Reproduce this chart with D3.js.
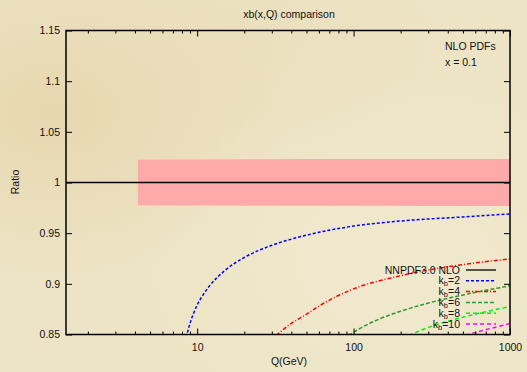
<!DOCTYPE html>
<html>
<head>
<meta charset="utf-8">
<script src="https://cdn.jsdelivr.net/npm/d3@7"></script>
<style>
  html, body { margin: 0; padding: 0; background: #ece2c2; }
  svg { display: block; font-family: "Liberation Sans", Arial, sans-serif; }
</style>
</head>
<body>
<div id="chart"></div>
<script>
'use strict';

// NNPDF3.0 NLO uncertainty band (ratio to central)
const bandQ = [4.18, 6, 10, 20, 50, 100, 300, 1000];
const bandUp = [1.0225, 1.0228, 1.0228, 1.023, 1.0232, 1.0232, 1.0233, 1.0233];
const bandLo = [0.9775, 0.9773, 0.9772, 0.9771, 0.977, 0.977, 0.9768, 0.9768];

// ratio curves for different kb
const kb2Q = [8.5, 9, 10, 11, 12, 15, 20, 30, 50, 100, 200, 500, 1000];
const kb2R = [0.847, 0.861, 0.879, 0.890, 0.898, 0.913, 0.926, 0.938, 0.948, 0.957, 0.962, 0.966, 0.969];
const kb4Q = [32, 40, 50, 60, 100, 200, 500, 1000];
const kb4R = [0.849, 0.861, 0.870, 0.878, 0.895, 0.908, 0.919, 0.9245];
const kb6Q = [93, 110, 150, 200, 300, 500, 1000];
const kb6R = [0.849, 0.856, 0.866, 0.873, 0.881, 0.889, 0.898];
const kb8Q = [225, 300, 400, 600, 1000];
const kb8R = [0.849, 0.857, 0.863, 0.870, 0.8776];
const kb10Q = [520, 600, 800, 1000];
const kb10R = [0.849, 0.852, 0.857, 0.861];

const yTicks = [0.85, 0.9, 0.95, 1, 1.05, 1.1, 1.15];
const yTickLabels = ["0.85", "0.9", "0.95", "1", "1.05", "1.1", "1.15"];
const xTicks = [10, 100, 1000];

const series = [
    {name: "NNPDF3.0 NLO", color: "#000000", dash: null, q: [1.45, 1000], r: [1, 1]},
    {name: "2", color: "#0000ff", dash: "3,2", q: kb2Q, r: kb2R},
    {name: "4", color: "#ff0000", dash: "4,2,1,2", q: kb4Q, r: kb4R},
    {name: "6", color: "#2f9a2f", dash: "4,2", q: kb6Q, r: kb6R},
    {name: "8", color: "#00f000", dash: "4,3", q: kb8Q, r: kb8R},
    {name: "10", color: "#ff00ff", dash: "4,3", q: kb10Q, r: kb10R}
];

const W = 527, H = 372;
const box = {left: 66, right: 510, top: 30.5, bottom: 334.5};

const svg = d3.select('#chart').append('svg')
    .attr('width', W)
    .attr('height', H);

// parchment background
const defs = svg.append('defs');
const spots = [
    {id: 'g1', cx: 0.1, cy: 0.3, r: 0.45, c: '#e2cc9c', o: 0.55},
    {id: 'g2', cx: 0.75, cy: 0.7, r: 0.5, c: '#f3ecd3', o: 0.7},
    {id: 'g3', cx: 0.45, cy: 0.1, r: 0.4, c: '#e9dbb5', o: 0.5}
];
spots.forEach(s => {
    const g = defs.append('radialGradient').attr('id', s.id)
        .attr('cx', s.cx).attr('cy', s.cy).attr('r', s.r);
    g.append('stop').attr('offset', '0%').attr('stop-color', s.c).attr('stop-opacity', s.o);
    g.append('stop').attr('offset', '100%').attr('stop-color', s.c).attr('stop-opacity', 0);
});
defs.append('clipPath').attr('id', 'plotclip')
    .append('rect')
    .attr('x', box.left).attr('y', box.top)
    .attr('width', box.right - box.left).attr('height', box.bottom - box.top);

svg.append('rect').attr('width', W).attr('height', H).attr('fill', '#ede4c5');
spots.forEach(s => {
    svg.append('rect').attr('width', W).attr('height', H).attr('fill', `url(#${s.id})`);
});

const x = d3.scaleLog().domain([1.45, 1000]).range([box.left, box.right]);
const y = d3.scaleLinear().domain([0.85, 1.15]).range([box.bottom, box.top]);

const plot = svg.append('g').attr('clip-path', 'url(#plotclip)');

// band
const bandData = bandQ.map((q, i) => ({q, up: bandUp[i], lo: bandLo[i]}));
plot.append('path')
    .datum(bandData)
    .attr('fill', '#ffaaaa')
    .attr('d', d3.area().x(d => x(d.q)).y0(d => y(d.lo)).y1(d => y(d.up)));

// curves
const line = d3.line().x(d => x(d[0])).y(d => y(d[1])).curve(d3.curveMonotoneX);
series.forEach(s => {
    plot.append('path')
        .datum(s.q.map((q, i) => [q, s.r[i]]))
        .attr('fill', 'none')
        .attr('stroke', s.color)
        .attr('stroke-width', s.dash ? 1.5 : 1.3)
        .attr('stroke-dasharray', s.dash)
        .attr('d', line);
});

// axes: ticks drawn inward, mirrored on both sides
const axes = svg.append('g');
const minor = [];
for (let dec = 1; dec <= 100; dec *= 10)
    for (let m = 1; m <= 9; m++) {
        const v = m * dec;
        if (v >= 1.45 && v <= 1000 && !xTicks.includes(v)) minor.push(v);
    }

axes.append('g').attr('transform', `translate(0,${box.bottom})`)
    .call(d3.axisBottom(x).tickValues(xTicks).tickFormat(d3.format('d')).tickSize(-6).tickPadding(9));
axes.append('g').attr('transform', `translate(0,${box.bottom})`)
    .call(d3.axisBottom(x).tickValues(minor).tickFormat('').tickSize(-3));
axes.append('g').attr('transform', `translate(0,${box.top})`)
    .call(d3.axisTop(x).tickValues(xTicks).tickFormat('').tickSize(-6));
axes.append('g').attr('transform', `translate(0,${box.top})`)
    .call(d3.axisTop(x).tickValues(minor).tickFormat('').tickSize(-3));
axes.append('g').attr('transform', `translate(${box.left},0)`)
    .call(d3.axisLeft(y).tickValues(yTicks).tickFormat((d, i) => yTickLabels[i]).tickSize(-6).tickPadding(6));
axes.append('g').attr('transform', `translate(${box.right},0)`)
    .call(d3.axisRight(y).tickValues(yTicks).tickFormat('').tickSize(-6));

axes.selectAll('.domain').remove();
axes.selectAll('line').attr('stroke', '#000').attr('stroke-width', 1);
axes.selectAll('text')
    .attr('font-family', '"Liberation Sans", Arial, sans-serif')
    .attr('font-size', 10.5)
    .attr('fill', '#111');

svg.append('rect')
    .attr('x', box.left).attr('y', box.top)
    .attr('width', box.right - box.left).attr('height', box.bottom - box.top)
    .attr('fill', 'none').attr('stroke', '#000').attr('stroke-width', 1.5);

// titles
const txt = (px, py, s, anchor) => svg.append('text')
    .attr('x', px).attr('y', py)
    .attr('text-anchor', anchor || 'start')
    .attr('font-size', 10.5)
    .attr('fill', '#111')
    .text(s);

txt(289, 18, 'xb(x,Q) comparison', 'middle');
txt(289, 365, 'Q(GeV)', 'middle');
svg.append('text')
    .attr('transform', 'translate(19,182) rotate(-90)')
    .attr('text-anchor', 'middle')
    .attr('font-size', 10.5)
    .attr('fill', '#111')
    .text('Ratio');
txt(445, 50, 'NLO PDFs');
txt(445, 66, 'x = 0.1');

// legend
const legend = svg.append('g');
series.forEach((s, i) => {
    const ly = 270 + i * 10.8;
    const t = legend.append('text')
        .attr('x', 460).attr('y', ly + 3.6)
        .attr('text-anchor', 'end')
        .attr('font-size', 10.5)
        .attr('fill', '#111');
    if (i === 0) t.text(s.name);
    else {
        t.append('tspan').text('k');
        t.append('tspan').attr('font-size', 7.5).attr('dy', 2).text('b');
        t.append('tspan').attr('dy', -2).text('=' + s.name);
    }
    legend.append('line')
        .attr('x1', 466).attr('x2', 496)
        .attr('y1', ly).attr('y2', ly)
        .attr('stroke', s.color)
        .attr('stroke-width', s.dash ? 1.5 : 1.3)
        .attr('stroke-dasharray', s.dash);
});
</script>
</body>
</html>
